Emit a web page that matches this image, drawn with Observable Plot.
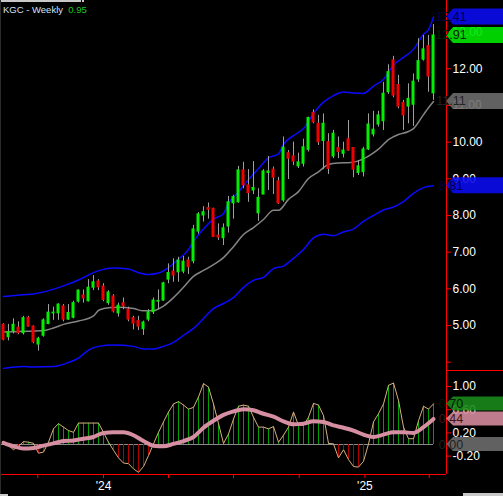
<!DOCTYPE html>
<html><head><meta charset="utf-8">
<script src="https://cdn.jsdelivr.net/npm/d3@7"></script>
<script src="https://cdn.jsdelivr.net/npm/@observablehq/plot@0.6"></script>
<style>
html,body{margin:0;padding:0;background:#000;}
#wrap{position:relative;width:503px;height:496px;background:#000;overflow:hidden;font-family:Arial,"Liberation Sans",sans-serif;}
#pricePane,#oscPane{position:absolute;left:0;}
#pricePane{top:0;} #oscPane{top:370px;}
#title{position:absolute;left:3px;top:5px;font-size:9.5px;line-height:1;color:#d2e2f6;white-space:pre;}
#title span{color:#1ec81e;}
.bar{position:absolute;background:#c8c8c8;}
</style></head><body>
<div id="wrap">
  <div id="pricePane"></div>
  <div id="oscPane"></div>
  <div class="bar" style="left:446px;top:370px;width:57px;height:1px;background:#ff0000"></div>
  <div class="bar" style="left:0;top:0;width:81px;height:2px;"></div>
  <div class="bar" style="left:82px;top:0;width:2px;height:2px;"></div>
  <div class="bar" style="left:0;top:0;width:1px;height:496px;background:#2c2c2c"></div>
  <div class="bar" style="left:463px;top:493px;width:40px;height:3px;"></div>
  <div class="bar" style="left:0;top:494px;width:8px;height:2px;"></div>
  <div id="title">KGC - Weekly  <span>0.95</span></div>
</div>
<script>
// ---- data (weekly bars starting 2023-08-14) ----
const firstWeek = Date.UTC(2023, 7, 14);
const opens  = [5.02,4.68,4.84,4.94,4.79,5.21,4.97,4.48,4.72,5.04,5.33,5.33,5.52,5.16,5.21,5.65,5.82,5.66,6.03,6.20,6.06,5.61,5.79,5.33,5.61,5.43,5.20,5.12,4.90,5.16,5.36,5.65,5.68,6.25,6.47,6.45,6.47,6.77,6.75,7.56,8.00,8.20,8.18,7.45,7.38,7.70,8.33,8.36,9.23,8.82,8.68,8.06,8.57,9.16,9.25,8.93,8.41,9.70,9.61,9.34,9.41,9.79,10.80,10.50,10.03,10.00,9.61,9.84,9.68,10.08,9.84,9.16,9.18,9.80,10.21,10.48,10.57,11.36,12.23,11.56,11.07,10.97,11.02,11.71,12.25,12.62,11.33];
const highs  = [5.05,5.03,5.18,5.10,5.25,5.25,4.99,4.68,5.18,5.57,5.50,5.59,5.57,5.57,5.66,5.97,5.97,6.25,6.36,6.25,6.14,5.95,5.84,5.61,5.75,5.50,5.25,5.25,5.12,5.43,5.75,5.97,6.18,6.68,6.82,6.86,6.88,6.86,7.73,8.08,8.24,8.34,8.20,7.77,7.77,8.52,8.55,9.34,9.45,9.25,9.47,8.73,9.25,9.61,9.32,9.04,10.14,9.77,10.00,9.70,10.08,10.68,10.88,10.73,10.77,10.23,10.32,10.14,10.00,10.59,9.84,9.50,9.86,10.77,10.84,10.84,11.63,12.11,12.34,11.82,11.14,11.59,11.86,12.82,12.91,12.91,13.21];
const lows   = [4.58,4.58,4.77,4.75,4.74,4.95,4.50,4.30,4.68,5.02,5.14,5.14,5.10,5.14,5.18,5.61,5.61,5.64,5.95,5.95,5.65,5.55,5.34,5.23,5.43,5.10,4.88,4.86,4.73,5.10,5.30,5.43,5.66,6.14,6.18,6.18,6.41,6.39,6.68,7.49,7.82,7.90,7.40,7.32,7.18,7.52,7.90,8.33,8.73,8.36,8.57,7.84,8.57,8.68,8.57,8.30,8.36,8.98,9.36,9.28,9.32,9.73,10.50,9.91,9.25,9.12,9.55,9.55,9.57,9.75,9.03,9.09,9.05,9.77,10.14,10.41,10.32,11.30,11.21,10.91,10.32,10.50,10.43,11.63,12.21,11.36,11.14];
const closes = [4.61,4.82,5.02,4.79,5.20,4.97,4.54,4.64,5.14,5.35,5.35,5.57,5.16,5.34,5.61,5.95,5.74,6.03,6.18,6.04,5.70,5.90,5.38,5.54,5.52,5.16,5.05,4.97,5.08,5.36,5.68,5.67,6.15,6.43,6.36,6.77,6.74,6.59,7.62,8.03,8.09,8.16,7.41,7.40,7.65,8.36,8.50,9.23,8.82,8.61,8.75,8.48,9.20,9.20,9.03,8.33,9.85,9.55,9.47,9.45,9.86,10.66,10.54,10.00,10.50,9.27,10.23,9.73,9.77,9.77,9.25,9.34,9.80,10.48,10.34,10.73,11.32,11.91,11.27,10.97,10.73,11.18,11.65,12.21,12.53,11.79,12.91];

// upper band (blue), middle (grey), lower band (blue): week index -> value
const upperWeeks = [0,4,6,9,12,15,18,20,22,25,27,29,31,33,35,37,38,40,42,44,45,47,49,51,53,55,56,58,60,62,64,66,68,70,72,74,76,78,80,82,84,85,86];
const upperVals  = [5.79,5.84,5.86,5.95,6.08,6.24,6.44,6.53,6.57,6.54,6.44,6.39,6.43,6.58,6.81,7.07,7.29,7.63,7.90,8.05,8.33,8.64,8.98,9.28,9.57,9.68,9.94,10.18,10.37,10.78,11.09,11.27,11.37,11.34,11.33,11.53,11.71,12.10,12.31,12.53,12.94,13.07,13.41];
const midWeeks = [0,4,8,10,12,15,18,19,20,23,26,28,30,32,34,36,38,40,42,44,46,48,50,52,54,55,57,59,61,63,65,67,69,71,73,75,77,79,81,82,84,85,86];
const midVals  = [4.82,4.84,4.86,4.93,5.03,5.12,5.26,5.41,5.46,5.50,5.46,5.40,5.41,5.53,5.76,6.04,6.34,6.50,6.66,6.85,7.15,7.48,7.67,7.89,8.14,8.14,8.44,8.65,9.01,9.19,9.39,9.43,9.44,9.49,9.62,9.81,10.07,10.21,10.29,10.37,10.75,10.94,11.11];
const lowerWeeks = [0,4,6,10,13,15,17,19,22,26,28,30,32,34,36,38,40,42,44,46,48,50,52,54,56,58,60,62,64,66,68,70,72,74,76,78,80,82,84,86];
const lowerVals  = [3.83,3.88,3.87,3.88,3.99,4.11,4.33,4.43,4.47,4.43,4.36,4.36,4.43,4.54,4.73,4.92,5.19,5.46,5.60,5.76,6.04,6.23,6.31,6.55,6.62,6.83,7.07,7.39,7.49,7.45,7.55,7.63,7.84,8.00,8.15,8.23,8.38,8.60,8.76,8.81];

// oscillator (one value per week) and its signal line
const oscVals = [0.02,-0.02,-0.09,-0.03,0.05,0.04,0.02,-0.15,-0.13,0.04,
  0.27,0.36,0.30,0.24,0.21,0.37,0.37,0.37,0.37,0.37,
  0.21,0.04,-0.10,-0.23,-0.32,-0.33,-0.42,-0.48,-0.38,-0.19,
  0.01,0.21,0.39,0.56,0.70,0.74,0.68,0.61,0.64,0.82,
  1.05,0.99,0.70,0.36,0.02,0.18,0.44,0.66,0.68,0.66,
  0.47,0.30,0.30,0.27,0.31,0.04,0.16,0.30,0.56,0.33,
  0.33,0.47,0.71,0.68,0.50,0.02,0.01,-0.23,-0.09,-0.26,
  -0.38,-0.39,-0.29,0.01,0.39,0.53,0.70,1.02,1.06,0.76,
  0.30,0.10,0.10,0.41,0.66,0.61,0.70];
const sigWeeks = [0,2,4,6,8,10,12,14,16,18,20,22,24,26,28,30,32,34,36,38,40,42,44,46,48,50,52,54,56,58,60,62,64,66,68,70,72,74,76,78,80,82,84,86];
const sigVals  = [0.03,-0.03,-0.07,-0.06,-0.02,0.02,0.06,0.07,0.10,0.13,0.20,0.21,0.21,0.16,0.06,-0.02,-0.03,0.01,0.06,0.13,0.29,0.41,0.51,0.57,0.61,0.59,0.53,0.48,0.40,0.35,0.36,0.40,0.39,0.33,0.29,0.24,0.17,0.13,0.17,0.21,0.21,0.20,0.30,0.44];

// axis ticks and value tags
const priceTicks = [4,5,6,7,8,9,10,11,12,13];
const oscTicks = [-0.2,0.2,0.6,1.0];
const timeTicks = [[2023,9],[2024,0],[2024,3],[2024,6],[2024,9],[2025,0],[2025,3]];
const priceTags = [
  {value:13.41, bg:"#0b0bee", fg:"#000040"},
  {value:12.91, bg:"#00e600", fg:"#002400"},
  {value:11.11, bg:"#6c6c6c", fg:"#222222"},
  {value:8.81,  bg:"#0b0bee", fg:"#000040"}
];
const oscTags = [
  {value:0.70, bg:"#1a8a1a", fg:"#041804"},
  {value:0.44, bg:"#d4899b", fg:"#3a1820"},
  {value:0.00, bg:"#6c6c6c", fg:"#222222"}
];

// ---- build ----
const DAY = 864e5;
const wk = i => new Date(firstWeek + i * 7 * DAY);
const bars = opens.map((o, i) => ({date: wk(i), open: o, high: highs[i], low: lows[i], close: closes[i]}));
const pts = (ws, vs) => ws.map((w, i) => ({date: wk(w), value: vs[i]}));
const osc = oscVals.map((v, i) => ({date: wk(i), v}));
const xStart = new Date(firstWeek - 4.2 * DAY);
const xEnd = new Date(xStart.getTime() + 446 / 5 * 7 * DAY);
const xScale = {type: "utc", domain: [xStart, xEnd]};
const W = 503, MR = 57;
const plotStyle = {background: "transparent", color: "white", fontFamily: "Arial, 'Liberation Sans', sans-serif", fontSize: "12px", overflow: "visible"};

function tagMark(tags, h) {
  return (index, scales, values, dim) => {
    const g = d3.create("svg:g");
    const x0 = dim.width - dim.marginRight;
    for (const t of tags) {
      const y = scales.y(t.value);
      g.append("path")
        .attr("d", `M${x0},${y}L${x0 + 7},${y - h / 2}H${dim.width}V${y + h / 2}H${x0 + 7}Z`)
        .attr("fill", t.bg).attr("fill-opacity", 0.9);
      g.append("text").attr("x", x0 + 5).attr("y", y).attr("dy", "0.36em")
        .attr("fill", t.fg).attr("font-size", 12.5).text(t.value.toFixed(2));
    }
    return g.node();
  };
}

const priceChart = Plot.plot({
  width: W, height: 370, marginLeft: 0, marginRight: MR, marginTop: 0, marginBottom: 0,
  style: plotStyle,
  x: {...xScale, axis: null},
  y: {domain: [3.772, 13.863]},
  marks: [
    Plot.line(pts(upperWeeks, upperVals), {x: "date", y: "value", stroke: "#0a0aff", strokeWidth: 1.5, curve: "monotone-x"}),
    Plot.line(pts(lowerWeeks, lowerVals), {x: "date", y: "value", stroke: "#0a0aff", strokeWidth: 1.5, curve: "monotone-x"}),
    Plot.line(pts(midWeeks, midVals), {x: "date", y: "value", stroke: "#858585", strokeWidth: 1.5, curve: "monotone-x"}),
    Plot.ruleX(bars, {x: "date", y1: "low", y2: "high", stroke: "#a0a0a0", strokeWidth: 1}),
    Plot.rect(bars, {
      x1: d => new Date(d.date.getTime() - 2.1 * DAY),
      x2: d => new Date(d.date.getTime() + 2.1 * DAY),
      y1: d => Math.min(d.open, d.close), y2: d => Math.max(d.open, d.close),
      insetTop: -0.5, insetBottom: -0.5,
      fill: d => d.close >= d.open ? "#00f000" : "#f00000"
    }),
    Plot.ruleX([xEnd], {stroke: "#ff0000"}),
    Plot.axisY({anchor: "right", ticks: priceTicks, tickFormat: d => d === 4 ? "" : d.toFixed(2),
      stroke: "#ff0000", fill: "white", tickSize: 4, tickPadding: 2, label: null}),
    tagMark(priceTags, 16)
  ]
});

const oscChart = Plot.plot({
  width: W, height: 126, marginLeft: 0, marginRight: MR, marginTop: 0, marginBottom: 22,
  style: plotStyle,
  x: xScale,
  y: {domain: [-0.517, 1.276]},
  marks: [
    Plot.ruleY([0], {x1: xStart, x2: wk(oscVals.length - 1), stroke: "#8a8a8a"}),
    Plot.ruleX(osc, {x: "date", y1: 0, y2: "v", stroke: d => d.v >= 0 ? "#00a000" : "#b00000", strokeWidth: 1}),
    Plot.line(osc, {x: "date", y: "v", stroke: "#d8b07c", strokeWidth: 1}),
    Plot.line(pts(sigWeeks, sigVals), {x: "date", y: "value", stroke: "#d68fa2", strokeWidth: 4, curve: "monotone-x"}),
    Plot.ruleX([xEnd], {stroke: "#ff0000"}),
    Plot.ruleY([-0.517], {stroke: "#ff0000"}),
    Plot.axisY({anchor: "right", ticks: oscTicks, tickFormat: d => d.toFixed(2),
      stroke: "#ff0000", fill: "white", tickSize: 4, tickPadding: 2, label: null}),
    Plot.axisX({anchor: "bottom", ticks: timeTicks.map(([y, m]) => new Date(Date.UTC(y, m, 1))),
      tickFormat: d => d.getUTCMonth() === 0 ? "'" + String(d.getUTCFullYear()).slice(2) : "",
      stroke: "#ff0000", fill: "white", tickSize: 4, tickPadding: 3, label: null}),
    tagMark(oscTags, 14)
  ]
});

document.getElementById("pricePane").appendChild(priceChart);
document.getElementById("oscPane").appendChild(oscChart);
</script>
</body></html>
